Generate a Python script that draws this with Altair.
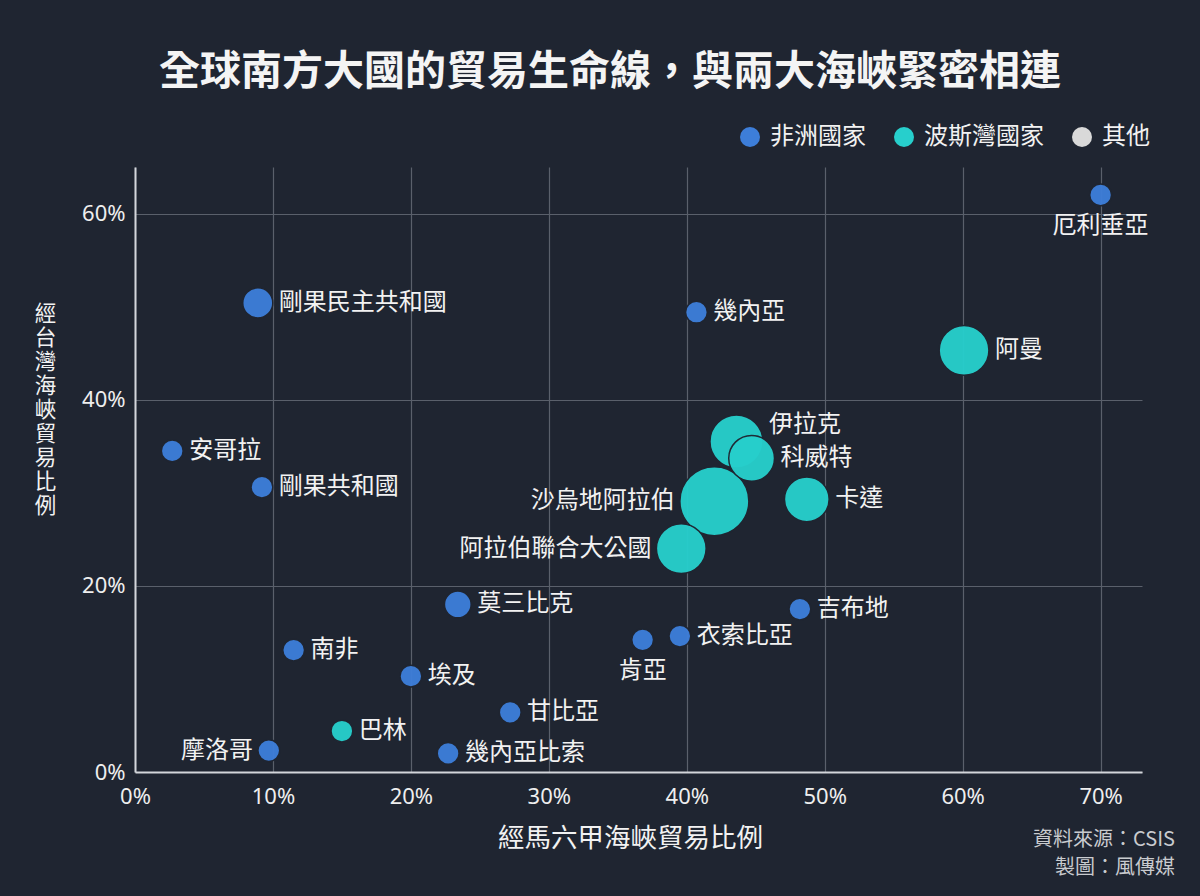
import altair as alt
import pandas as pd

# ---- data ----
names = ["厄利垂亞", "剛果民主共和國", "幾內亞", "阿曼", "伊拉克", "科威特", "沙烏地阿拉伯",
         "卡達", "阿拉伯聯合大公國", "安哥拉", "剛果共和國", "莫三比克", "吉布地", "衣索比亞",
         "肯亞", "南非", "埃及", "甘比亞", "巴林", "摩洛哥", "幾內亞比索"]
malacca = [70.0, 8.9, 40.7, 60.1, 43.6, 44.7, 42.0, 48.7, 39.6, 2.7, 9.2, 23.4, 48.2, 39.5,
           36.8, 11.5, 20.0, 27.2, 15.0, 9.7, 22.7]
taiwan = [62.0, 50.4, 49.4, 45.3, 35.5, 33.7, 29.1, 29.3, 24.0, 34.5, 30.6, 18.0, 17.5, 14.6,
          14.2, 13.1, 10.3, 6.4, 4.4, 2.3, 2.0]
region = ["非洲國家", "非洲國家", "非洲國家", "波斯灣國家", "波斯灣國家", "波斯灣國家", "波斯灣國家",
          "波斯灣國家", "波斯灣國家", "非洲國家", "非洲國家", "非洲國家", "非洲國家", "非洲國家",
          "非洲國家", "非洲國家", "非洲國家", "非洲國家", "波斯灣國家", "非洲國家", "非洲國家"]
weight = [10, 19, 10, 52, 59, 44, 100, 42, 52, 10, 10, 15, 10, 10, 10, 10, 10, 10, 10, 10, 10]
categories = ["非洲國家", "波斯灣國家", "其他"]
x_ticks = [0, 10, 20, 30, 40, 50, 60, 70]
y_ticks = [0, 20, 40, 60]

labels_left = ["摩洛哥", "沙烏地阿拉伯", "阿拉伯聯合大公國"]
labels_below = ["厄利垂亞", "肯亞"]
labels_above = ["伊拉克"]

def place_of(n):
    if n in labels_left:
        return "left"
    if n in labels_below:
        return "below"
    if n in labels_above:
        return "above"
    return "right"

df = pd.DataFrame({"name": names, "x": malacca, "y": taiwan, "region": region, "w": weight,
                   "place": [place_of(n) for n in names]})

BG = "#1f2531"
FONT = "Noto Sans CJK TC"
W, H = 1007, 605
XMAX, YMAX = 73, 65
SIZE_MAX = 4761  # vega symbol size: diameter = sqrt(size)
PXX = W / XMAX
PXY = H / YMAX

xs = alt.Scale(domain=[0, XMAX], nice=False, zero=True)
ys = alt.Scale(domain=[0, YMAX], nice=False, zero=True)

base = alt.Chart(df)

points = base.mark_circle(opacity=0.96, stroke=BG, strokeWidth=1.5).encode(
    x=alt.X("x:Q", scale=xs,
            axis=alt.Axis(values=x_ticks, labelExpr="datum.value + '%'", title="經馬六甲海峽貿易比例",
                          titlePadding=18, titleFontSize=26.5, labelPadding=14, labelFlush=False,
                          titleX=495, titleAlign="center")),
    y=alt.Y("y:Q", scale=ys,
            axis=alt.Axis(values=y_ticks, labelExpr="datum.value + '%'",
                          title=list("經台灣海峽貿易比例"), titleAngle=0, titleX=-90, titleY=136,
                          titleAlign="center", titleBaseline="top", titleFontSize=21.5,
                          titleLineHeight=24, labelPadding=10, labelFlush=False)),
    size=alt.Size("w:Q", scale=alt.Scale(type="linear", domain=[0, 100], range=[0, SIZE_MAX]),
                  legend=None),
    color=alt.Color("region:N", scale=alt.Scale(domain=categories,
                                                range=["#3d7ed9", "#27cfcc", "#d9d9d9"]),
                    legend=alt.Legend(title=None, orient="none", legendX=603, legendY=-42,
                                      direction="horizontal", columns=3, symbolType="circle",
                                      symbolSize=400, symbolStrokeWidth=0, symbolOpacity=1,
                                      labelFontSize=24, labelColor="#f2f2f2", labelFont=FONT,
                                      labelOffset=8, columnPadding=26)),
    order=alt.Order("w:Q", sort="descending"),
)

r_expr = f"sqrt(datum.w * {SIZE_MAX / 100}) / 2"

def label_layer(where, align, baseline="middle"):
    return base.transform_filter(
        alt.FieldOneOfPredicate(field="place", oneOf=where)
    ).transform_calculate(
        r=r_expr
    ).transform_calculate(
        lx=(f"datum.place == 'left' ? datum.x - (datum.r + 5) / {PXX} : "
            f"datum.place == 'below' ? datum.x : datum.x + (datum.r + 6) / {PXX}"),
        ly=(f"datum.place == 'below' ? datum.y - (datum.r + 20) / {PXY} : "
            f"datum.place == 'above' ? datum.y + 17 / {PXY} : datum.y"),
    ).mark_text(align=align, baseline=baseline, fontSize=24, font=FONT, color="#f2f2f2").encode(
        x=alt.X("lx:Q", scale=xs),
        y=alt.Y("ly:Q", scale=ys),
        text="name:N",
    )

labels_r = label_layer(["right", "above"], "left")
labels_l = label_layer(["left"], "right")
labels_b = label_layer(["below"], "center")

title = alt.Chart(pd.DataFrame({"t": ["全球南方大國的貿易生命線，與兩大海峽緊密相連"]})).mark_text(
    fontSize=41, fontWeight="bold", font=FONT, color="#f4f4f4", align="center", baseline="middle"
).encode(text="t:N", x=alt.value(475), y=alt.value(-94))

note = alt.Chart(pd.DataFrame({"t": ["資料來源：CSIS\n製圖：風傳媒"]})).mark_text(
    fontSize=20, font=FONT, color="#c9cbcf", align="right", baseline="middle",
    lineBreak="\n", lineHeight=28
).encode(text="t:N", x=alt.value(1040), y=alt.value(673))

chart = alt.layer(points, labels_r, labels_l, labels_b, title, note).properties(
    width=W, height=H,
    background=BG,
    autosize=alt.AutoSizeParams(type="none"),
    padding={"left": 135, "top": 167, "right": 58, "bottom": 124},
).configure_view(stroke=None).configure_axis(
    grid=True, gridColor="#5a606b", gridWidth=1.2, ticks=False,
    domainColor="#d3d6db", domainWidth=2,
    labelColor="#eeeeee", labelFontSize=22, labelFont="Noto Sans",
    titleColor="#f2f2f2", titleFont=FONT, titleFontWeight="normal",
)

chart.save("out.html", embed_options={"renderer": "svg", "actions": False})
